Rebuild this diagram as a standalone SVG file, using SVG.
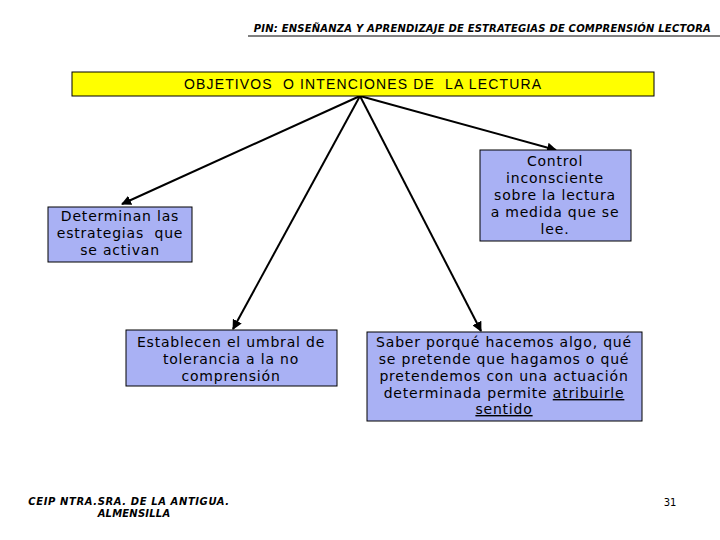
<svg xmlns="http://www.w3.org/2000/svg" width="720" height="540" viewBox="0 0 720 540">
<defs>
<marker id="ah" viewBox="0 0 10 10" refX="9" refY="5" markerWidth="5" markerHeight="5" orient="auto" markerUnits="strokeWidth">
<path d="M0,0 L10,5 L0,10 z" fill="#000"/>
</marker>
<style>
.box{fill:#a9b1f4;stroke:#000;stroke-width:1}
.t{font-family:"DejaVu Sans",Verdana,sans-serif;font-size:14px;letter-spacing:0.8px;fill:#000;text-anchor:middle}
.hd{font-family:"DejaVu Sans",Verdana,sans-serif;font-size:10px;font-weight:bold;font-style:italic;fill:#000;letter-spacing:0.2px}
.ln{stroke:#000;stroke-width:2;fill:none;marker-end:url(#ah)}
</style>
</defs>
<rect width="720" height="540" fill="#fff"/>
<text class="hd" x="711" y="32" text-anchor="end">PIN: ENSEÑANZA Y APRENDIZAJE DE ESTRATEGIAS DE COMPRENSIÓN LECTORA</text>
<line x1="248" y1="36" x2="720" y2="36" stroke="#000" stroke-width="1"/>
<g id="connectors">
<line class="ln" x1="360" y1="96" x2="122" y2="204"/>
<line class="ln" x1="360" y1="96" x2="556" y2="150"/>
<line class="ln" x1="360" y1="96" x2="233" y2="329"/>
<line class="ln" x1="360" y1="96" x2="481" y2="331"/>
</g>
<g id="title">
<rect x="72" y="72" width="582" height="24" fill="#ffff00" stroke="#000" stroke-width="1"/>
<text x="184" y="89" font-family="'Liberation Sans',Arial,sans-serif" font-size="14" textLength="357" lengthAdjust="spacing" xml:space="preserve">OBJETIVOS  O INTENCIONES DE  LA LECTURA</text>
</g>
<g id="n1">
<rect class="box" x="48" y="207" width="144" height="55"/>
<text class="t" x="120" y="221">Determinan las</text>
<text class="t" x="120" y="238" xml:space="preserve">estrategias  que</text>
<text class="t" x="120" y="255">se activan</text>
</g>
<g id="n2">
<rect class="box" x="480" y="150" width="151" height="91"/>
<text class="t" x="555" y="166">Control</text>
<text class="t" x="555" y="183">inconsciente</text>
<text class="t" x="555" y="200">sobre la lectura</text>
<text class="t" x="555" y="217">a medida que se</text>
<text class="t" x="555" y="234">lee.</text>
</g>
<g id="n3">
<rect class="box" x="126" y="330" width="211" height="56"/>
<text class="t" x="231" y="347">Establecen el umbral de</text>
<text class="t" x="231" y="364">tolerancia a la no</text>
<text class="t" x="231" y="381">comprensión</text>
</g>
<g id="n4">
<rect class="box" x="367" y="332" width="275" height="89"/>
<text class="t" x="504" y="347">Saber porqué hacemos algo, qué</text>
<text class="t" x="504" y="364">se pretende que hagamos o qué</text>
<text class="t" x="504" y="381">pretendemos con una actuación</text>
<text class="t" x="504" y="398">determinada permite <tspan text-decoration="underline">atribuirle</tspan></text>
<text class="t" x="504" y="414" text-decoration="underline">sentido</text>
</g>
<text class="hd" x="129" y="505" text-anchor="middle" style="letter-spacing:0.6px">CEIP NTRA.SRA. DE LA ANTIGUA.</text>
<text class="hd" x="134" y="517" text-anchor="middle">ALMENSILLA</text>
<text x="670" y="506" font-family="'DejaVu Sans',Verdana,sans-serif" font-size="10" text-anchor="middle">31</text>
</svg>
